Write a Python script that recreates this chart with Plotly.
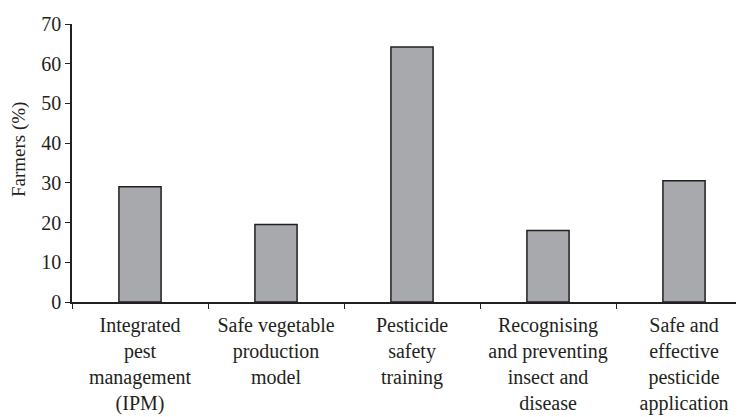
import plotly.graph_objects as go

categories = [
    "Integrated<br>pest<br>management<br>(IPM)",
    "Safe vegetable<br>production<br>model",
    "Pesticide<br>safety<br>training",
    "Recognising<br>and preventing<br>insect and<br>disease",
    "Safe and<br>effective<br>pesticide<br>application",
]
farmers_pct = [29.0, 19.5, 64.2, 18.0, 30.5]
y_ticks = [0, 10, 20, 30, 40, 50, 60, 70]

FONT = "Liberation Serif, DejaVu Serif, serif"
INK = "#231f20"

fig = go.Figure(
    go.Bar(
        x=categories,
        y=farmers_pct,
        width=0.31,
        marker=dict(color="#a7a9ac", line=dict(color=INK, width=1.5)),
    )
)

# page body has an 8px default margin, so margins are compensated
fig.update_layout(
    width=744,
    height=417,
    margin=dict(l=64, r=0, t=16, b=123),
    paper_bgcolor="white",
    plot_bgcolor="white",
    showlegend=False,
    font=dict(family=FONT, size=20, color=INK),
)

fig.update_xaxes(
    range=[-0.5, 4.5],
    showline=True,
    linecolor=INK,
    linewidth=1.5,
    ticks="outside",
    tickson="boundaries",
    ticklen=5,
    tickcolor=INK,
    tickwidth=1,
    showgrid=False,
    tickangle=0,
    automargin=False,
    ticklabelstandoff=4,
    tickfont=dict(family=FONT, size=20, color=INK),
)

fig.update_yaxes(
    range=[0, 70],
    tickvals=y_ticks,
    showline=True,
    linecolor=INK,
    linewidth=1.5,
    ticks="outside",
    ticklen=5,
    tickcolor=INK,
    tickwidth=1,
    showgrid=False,
    zeroline=False,
    automargin=False,
    tickfont=dict(family=FONT, size=20, color=INK),
)

fig.add_annotation(
    text="Farmers (%)",
    xref="paper", yref="paper",
    x=-0.078, y=0.55,
    xanchor="center", yanchor="middle",
    textangle=-90,
    showarrow=False,
    font=dict(family=FONT, size=19, color=INK),
)

fig.write_html("out.html")
